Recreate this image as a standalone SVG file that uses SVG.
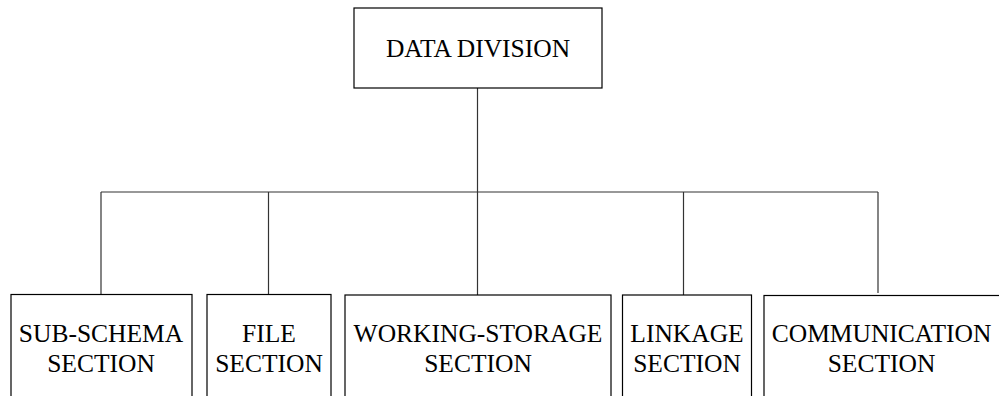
<svg xmlns="http://www.w3.org/2000/svg" width="999" height="396" viewBox="0 0 999 396">
  <style>
    .box { fill: #ffffff; stroke: #000000; stroke-width: 1.2; }
    .wire { fill: none; stroke: #333333; stroke-width: 1.2; }
    .label { font-family: "Liberation Serif", "Times New Roman", serif; font-size: 25.5px; fill: #000000; text-anchor: middle; }
  </style>
  <rect width="999" height="396" fill="#ffffff"/>

  <g id="connectors">
    <line class="wire" x1="477.5" y1="88" x2="477.5" y2="192"/>
    <line class="wire" x1="101" y1="192" x2="878" y2="192"/>
    <line class="wire" x1="101" y1="192" x2="101" y2="294"/>
    <line class="wire" x1="268.5" y1="192" x2="268.5" y2="294"/>
    <line class="wire" x1="477.5" y1="192" x2="477.5" y2="295"/>
    <line class="wire" x1="683.5" y1="192" x2="683.5" y2="295"/>
    <line class="wire" x1="878" y1="192" x2="878" y2="293"/>
  </g>

  <g id="data-division">
    <rect class="box" x="354" y="8" width="248" height="80"/>
    <text class="label" x="478" y="57">DATA DIVISION</text>
  </g>

  <g id="sub-schema-section">
    <rect class="box" x="11" y="294.5" width="181" height="120"/>
    <text class="label" x="101" y="341.5">SUB-SCHEMA</text>
    <text class="label" x="101" y="371.5">SECTION</text>
  </g>

  <g id="file-section">
    <rect class="box" x="207" y="294.5" width="124" height="120"/>
    <text class="label" x="269" y="341.5">FILE</text>
    <text class="label" x="269" y="371.5">SECTION</text>
  </g>

  <g id="working-storage-section">
    <rect class="box" x="345" y="295" width="266" height="120"/>
    <text class="label" x="478" y="341.5">WORKING-STORAGE</text>
    <text class="label" x="478" y="371.5">SECTION</text>
  </g>

  <g id="linkage-section">
    <rect class="box" x="622.5" y="295" width="129" height="120"/>
    <text class="label" x="687" y="341.5">LINKAGE</text>
    <text class="label" x="687" y="371.5">SECTION</text>
  </g>

  <g id="communication-section">
    <rect class="box" x="764" y="295.5" width="240" height="120"/>
    <text class="label" x="881.5" y="341.5">COMMUNICATION</text>
    <text class="label" x="881.5" y="371.5">SECTION</text>
  </g>
</svg>
